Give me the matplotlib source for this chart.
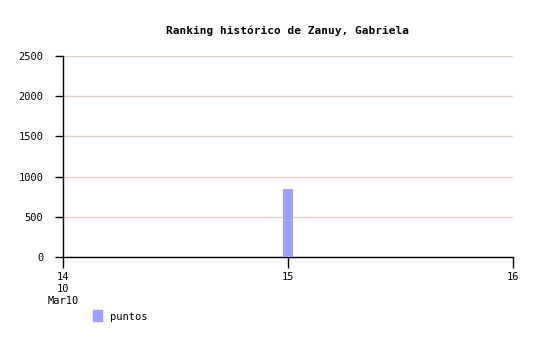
import matplotlib
matplotlib.use('Agg')
import matplotlib.pyplot as plt
from matplotlib.patches import Rectangle

# data
fechas = [15]
puntos = [850]
xticks = [14, 15, 16]
xlabels = ['14\n10\nMar10', '15', '16']
yticks = [0, 500, 1000, 1500, 2000, 2500]

plt.rcParams['font.family'] = 'DejaVu Sans Mono'

fig = plt.figure(figsize=(5.43, 3.40), dpi=100)
ax = fig.add_axes([63/543, 1-257/340, 450/543, 201/340])

ax.bar(fechas, puntos, width=0.042, color='#9f9fff', zorder=3)

ax.set_xlim(14, 16)
ax.set_ylim(0, 2500)
ax.set_xticks(xticks)
ax.set_xticklabels(xlabels, fontsize=7.5, linespacing=1.25)
ax.set_yticks(yticks)
ax.tick_params(axis='y', labelsize=7.5, length=6, width=1, direction='out', pad=8)
ax.tick_params(axis='x', length=8, width=1, direction='out', pad=3)
ax.grid(axis='y', color='#e0d2c8', linewidth=1, zorder=0)

for s in ['top', 'right']:
    ax.spines[s].set_visible(False)
ax.spines['left'].set_linewidth(1)
ax.spines['bottom'].set_linewidth(1)

fig.text(288/543, 1-31/340, 'Ranking histórico de Zanuy, Gabriela',
         ha='center', va='center', fontsize=8, fontweight='bold')

fig.patches.append(Rectangle((93/543, 1-321/340), 9/543, 11/340,
                             transform=fig.transFigure, color='#9f9fff'))
fig.text(110/543, 1-317/340, 'puntos', ha='left', va='center', fontsize=7.5)

fig.savefig('out.png', dpi=100)
